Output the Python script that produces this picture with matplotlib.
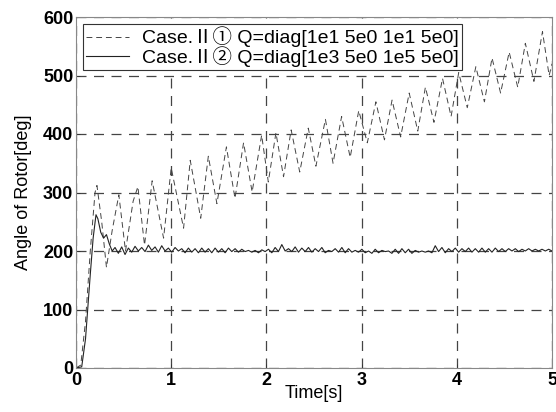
import numpy as np
import matplotlib
matplotlib.use("Agg")
import matplotlib.pyplot as plt

plt.rcParams['font.family'] = ['Liberation Sans', 'DejaVu Sans', 'Noto Sans CJK JP']

# Case II-1 (dashed): read peaks / troughs
t1 = [0.0, 0.05, 0.10, 0.15, 0.20, 0.22, 0.27, 0.32, 0.38, 0.45, 0.52, 0.60, 0.65, 0.72, 0.80,
      0.92, 1.00, 1.13, 1.20, 1.31, 1.39, 1.48, 1.58, 1.67, 1.76, 1.85, 1.95, 2.02, 2.10,
      2.18, 2.26, 2.35, 2.44, 2.52, 2.62, 2.70, 2.79, 2.88, 2.97, 3.06, 3.15, 3.24, 3.32,
      3.41, 3.50, 3.59, 3.67, 3.76, 3.85, 3.94, 4.02, 4.11, 4.20, 4.29, 4.37, 4.46, 4.55,
      4.64, 4.72, 4.81, 4.90, 4.97, 5.0]
y1 = [0, 5, 80, 200, 300, 312, 250, 172, 235, 296, 200, 285, 310, 210, 320,
      222, 342, 239, 355, 256, 362, 281, 378, 290, 385, 301, 398, 318, 402,
      327, 407, 335, 410, 345, 425, 350, 430, 360, 440, 385, 455, 390, 458,
      395, 470, 405, 480, 420, 495, 430, 505, 445, 515, 455, 530, 470, 540,
      480, 555, 490, 575, 500, 520]

# Case II-2 (solid)
t2_head = [0.0, 0.06, 0.10, 0.15, 0.18, 0.21, 0.23, 0.26, 0.29, 0.32, 0.35, 0.38]
y2_head = [0, 2, 50, 160, 222, 262, 255, 232, 222, 228, 212, 200]
y2_tail = [206, 196, 207, 194, 205, 198, 208, 200, 206, 199, 210, 201, 207, 198, 209,
           200, 205, 198, 206, 200, 204, 197, 205, 198, 204, 197, 205, 198, 204, 197,
           205, 198, 204, 197, 205, 199, 204, 198, 203, 199, 201, 198, 201, 197, 202,
           199, 203, 197, 206, 199, 211, 200, 204, 199, 207, 198, 205, 199, 206, 198,
           204, 199, 206, 197, 201, 199, 204, 198, 206, 197, 204, 198, 201, 198, 203,
           197, 200, 196, 203, 197, 201, 199, 200, 196, 203, 196, 204, 197, 203, 196,
           201, 198, 200, 198, 200, 197, 209, 199, 206, 197, 204, 199, 205, 198, 204,
           199, 205, 198, 204, 198, 205, 198, 204, 198, 205, 199, 204, 199, 204, 200,
           204, 199, 203, 200, 204, 200, 203, 200, 203, 200, 203, 200]
t2_tail = np.linspace(0.41, 5.0, len(y2_tail))
t2 = np.concatenate([t2_head, t2_tail])
y2 = np.concatenate([y2_head, y2_tail])

label1 = "Case.Ⅱ① Q=diag[1e1 5e0 1e1 5e0]"
label2 = "Case.Ⅱ② Q=diag[1e3 5e0 1e5 5e0]"
xticks = [0, 1, 2, 3, 4, 5]
yticks = [0, 100, 200, 300, 400, 500, 600]

fig = plt.figure(figsize=(5.56, 4.12), dpi=100)
ax = fig.add_axes([76 / 556, 1 - 368 / 412, 476 / 556, 351 / 412])

ax.plot(t1, y1, color='#444444', lw=0.7, dashes=(6, 4), label=label1)
ax.plot(t2, y2, color='#222222', lw=0.8, label=label2)

ax.set_xlim(0, 5)
ax.set_ylim(0, 600)
ax.set_xticks(xticks)
ax.set_yticks(yticks)
ax.grid(True, color='#444444', lw=0.9, dashes=(8, 6))
ax.tick_params(direction='in', length=3, width=0.6, labelsize=13, pad=2, colors='#333333',
               labelcolor='black')
ax.tick_params(axis='x', pad=3)
for lab in ax.get_xticklabels() + ax.get_yticklabels():
    lab.set_fontweight('bold')
for s in ax.spines.values():
    s.set_color('#888888')
    s.set_linewidth(0.8)

ax.set_xlabel("Time[s]", fontsize=13, labelpad=-3)
ax.set_ylabel("Angle of Rotor[deg]", fontsize=13, labelpad=8)

leg = ax.legend(loc='upper left', handlelength=2.2, handletextpad=0.7,
                borderaxespad=0.35, borderpad=0.15, labelspacing=-0.05, fancybox=False,
                framealpha=1, edgecolor='#333333',
                prop={'family': ['Liberation Sans', 'Noto Sans CJK JP'], 'size': 14})
leg.get_frame().set_linewidth(0.8)

fig.savefig("out.png", dpi=100)
